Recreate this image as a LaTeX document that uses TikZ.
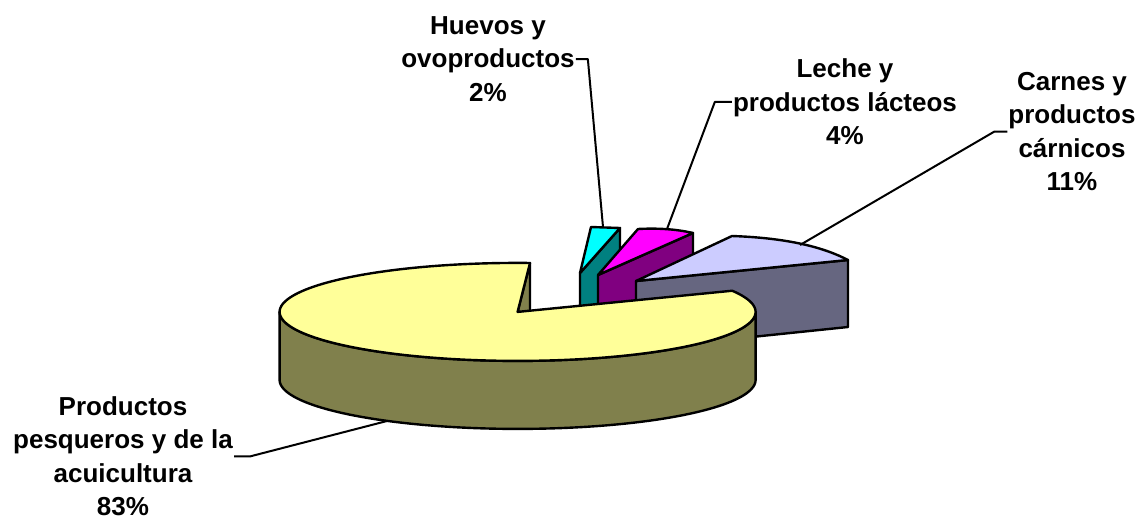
\documentclass[tikz,border=0pt]{standalone}
\usepackage{fontspec}
\setmainfont{Liberation Sans}

\definecolor{pescatop}{HTML}{FFFF99}
\definecolor{pescaside}{HTML}{80804C}
\definecolor{carnestop}{HTML}{CCCCFF}
\definecolor{carnesside}{HTML}{666680}
\definecolor{lechetop}{HTML}{FF00FF}
\definecolor{lecheside}{HTML}{800080}
\definecolor{huevostop}{HTML}{00FFFF}
\definecolor{huevosside}{HTML}{008080}

\begin{document}
\begin{tikzpicture}[
	x=1pt, y=-1pt,
	slice/.style={draw=black, line width=2.4pt, line join=round},
	leader/.style={draw=black, line width=2pt, line join=round},
	lbl/.style={align=center, anchor=north, inner sep=1pt,
		font=\fontsize{26}{33.5}\selectfont\bfseries}
]
	\useasboundingbox (0,0) rectangle (1140,517);

	% huevos
	\draw[slice, fill=huevosside] (580,273) -- (620,228) -- (620,296) -- (580,341) -- cycle;
	\draw[slice, fill=huevostop] (580,273) -- (591,227) -- (620,228) -- cycle;

	% leche
	\draw[slice, fill=lecheside] (598,275) -- (693,233) -- (693,301) -- (598,343) -- cycle;
	\draw[slice, fill=lechetop] (598,275) -- (638,229) .. controls (657,228) and (676,229) .. (693,233) -- cycle;

	% carnes
	\draw[slice, fill=carnesside] (636,281) -- (848,260) -- (848,327) -- (636,349) -- cycle;
	\draw[slice, fill=carnestop] (636,281) -- (732,236) .. controls (790,238) and (825,248) .. (848,260) -- cycle;

	% productos pesqueros
	\draw[slice, fill=pescaside] (517.6,311.9) -- (530,263) -- (530,331) -- (517.6,379.9) -- cycle;
	\draw[slice, fill=pescaside] plot[domain=180:0, samples=90] ({517.6+238*cos(\x)}, {311.9+49*sin(\x)})
		-- plot[domain=0:180, samples=90] ({517.6+238*cos(\x)}, {379.9+49*sin(\x)}) -- cycle;
	\draw[slice, fill=pescatop] (517.6,311.9) -- (530,263)
		-- plot[domain=-87:-385.6, samples=150] ({517.6+238*cos(\x)}, {311.9+49*sin(\x)}) -- cycle;

	\node[lbl] (huevos) at (488,15.4) {Huevos y\\ovoproductos\\2\%};
	\node[lbl] (leche) at (845,57.7) {Leche y\\productos lácteos\\4\%};
	\node[lbl] (carnes) at (1072,71) {Carnes y\\productos\\cárnicos\\11\%};
	\node[lbl] (pesca) at (123,395.4) {Productos\\pesqueros y de la\\acuicultura\\83\%};

	\coordinate (huevostip) at (603,227);
	\coordinate (lechetip) at (667,229);
	\coordinate (carnestip) at (800,245);
	\coordinate (pescatip) at (387,421);

	\draw[leader] (huevos.east) -- ++(12,0) -- (huevostip);
	\draw[leader] (leche.west) -- ++(-17,0) -- (lechetip);
	\draw[leader] (carnes.west) -- ++(-13,0) -- (carnestip);
	\draw[leader] (pesca.east) -- ++(16,0) -- (pescatip);
\end{tikzpicture}
\end{document}
